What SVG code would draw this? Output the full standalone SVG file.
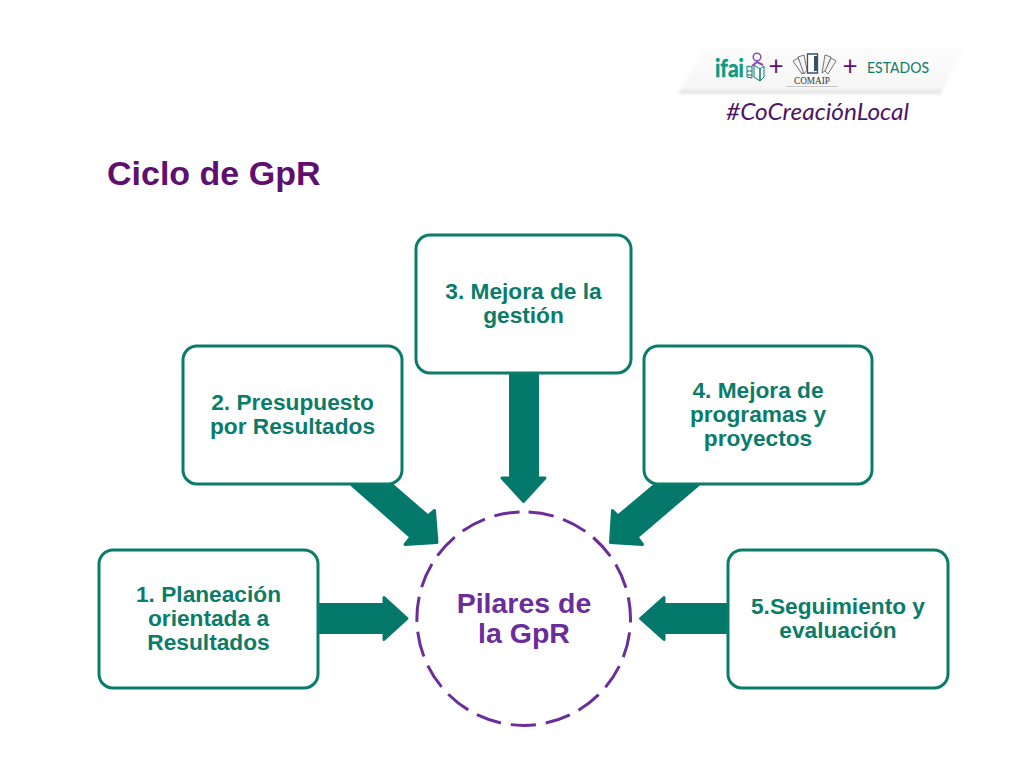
<svg xmlns="http://www.w3.org/2000/svg" width="1024" height="768" viewBox="0 0 1024 768">
<defs>
<linearGradient id="ban" x1="0" y1="0" x2="0" y2="1"><stop offset="0" stop-color="#fbfbfb"/><stop offset="0.85" stop-color="#f7f7f7"/><stop offset="1" stop-color="#e0e0e0"/></linearGradient>
<filter id="soft" x="-5%" y="-20%" width="110%" height="140%"><feGaussianBlur stdDeviation="1.5"/></filter>
</defs>
<style>
.box{fill:#fff;stroke:#0b7c69;stroke-width:3}
.arrow{fill:#04786a;stroke:#04786a;stroke-width:3;stroke-linejoin:round}
.lbl{font-family:"Liberation Sans",Arial,sans-serif;font-weight:700;font-size:22.7px;fill:#0b7c69;text-anchor:middle}
.ctr{font-family:"Liberation Sans",Arial,sans-serif;font-weight:700;font-size:28.5px;fill:#6a2d9a;text-anchor:middle}
.logo{font-family:Lato,"Open Sans",sans-serif}
</style>
<rect width="1024" height="768" fill="#fff"/>
<g id="logo">
<path d="M704 48H963L941 94H678Z" fill="url(#ban)" filter="url(#soft)"/>
<text class="logo" x="715" y="77" font-size="25" font-weight="700" fill="#0b9a80" stroke="#0b9a80" stroke-width="0.5" textLength="29" lengthAdjust="spacingAndGlyphs">ifai</text>
<g fill="none" stroke="#0b7c69" stroke-width="1"><path d="M747 66l5 1v11l-5 -1zM747 71h5M747 75h5"/><path d="M754 65l6 4v12l-6 -4z"/><path d="M760 69l4 -3v11l-4 4z"/></g>
<circle cx="757" cy="57" r="3.800" fill="none" stroke="#8a4fb0" stroke-width="1.500"/>
<path d="M752 66l5 -4 6 3" fill="none" stroke="#8a4fb0" stroke-width="2"/>
<text class="logo" x="776" y="75" font-size="26" fill="#5f0f6f" text-anchor="middle">+</text>
<g fill="#f4f4f4" stroke="#666" stroke-width="0.9"><path d="M793 61l5 -3 7 12 -3 4z"/><path d="M798 57l6 -2 3 15 -3 4z"/><path d="M825 55l6 2 -5 13 -4 3z"/><path d="M831 58l5 3 -8 13 -3 -3z"/></g>
<path d="M807.500 54h10v19h-10z" fill="#fff" stroke="#35506b" stroke-width="1.300"/>
<path d="M814 56h3v15h-3z" fill="#35506b"/>
<path d="M786 86.500H838" stroke="#999" stroke-width="1" opacity="0.5"/>
<text x="812" y="84" font-family="Liberation Serif,serif" font-size="10" fill="#333" text-anchor="middle" textLength="36" lengthAdjust="spacingAndGlyphs">COMAIP</text>
<text class="logo" x="850" y="75" font-size="26" fill="#5f0f6f" text-anchor="middle">+</text>
<text class="logo" x="867" y="73" font-size="14.500" fill="#0b7c69" textLength="62" lengthAdjust="spacingAndGlyphs">ESTADOS</text>
<text class="logo" x="726" y="120" font-size="23" font-style="italic" fill="#4f1468" textLength="183" lengthAdjust="spacingAndGlyphs">#CoCreaciónLocal</text>
</g>
<text id="title" x="107" y="185" font-family="Liberation Sans,Arial,sans-serif" font-size="34" font-weight="700" fill="#5f0f6f">Ciclo de GpR</text>
<g id="connectors">
<path class="arrow" d="M319 604.500H384V597.500L407 618.500L384 639.500V632.500H319Z"/>
<path class="arrow" d="M352 485H392L428 516L434.500 510.500L437 542.500L405 544.500L411 537Z"/>
<path class="arrow" d="M510.500 373H537.500V478H545L523.500 501.500L502 478H510.500Z"/>
<path class="arrow" d="M698 485H655L618 516L612.500 510.500L610.500 542.500L642.500 544.500L637 537Z"/>
<path class="arrow" d="M728 604.500H664V597.500L640.500 618.500L664 639.500V632.500H728Z"/>
</g>
<g id="node1"><rect class="box" x="99" y="550" width="219" height="138" rx="14"/><text class="lbl" x="208.500" y="602">1. Planeación</text><text class="lbl" x="208.500" y="626">orientada a</text><text class="lbl" x="208.500" y="650">Resultados</text></g>
<g id="node2"><rect class="box" x="183" y="346" width="219" height="138" rx="14"/><text class="lbl" x="292.500" y="410">2. Presupuesto</text><text class="lbl" x="292.500" y="434">por Resultados</text></g>
<g id="node3"><rect class="box" x="416" y="235" width="215" height="138" rx="14"/><text class="lbl" x="523.500" y="299">3. Mejora de la</text><text class="lbl" x="523.500" y="323">gestión</text></g>
<g id="node4"><rect class="box" x="644" y="346" width="228" height="138" rx="14"/><text class="lbl" x="758" y="398">4. Mejora de</text><text class="lbl" x="758" y="422">programas y</text><text class="lbl" x="758" y="446">proyectos</text></g>
<g id="node5"><rect class="box" x="728" y="550" width="220" height="138" rx="14"/><text class="lbl" x="838" y="614">5.Seguimiento y</text><text class="lbl" x="838" y="638">evaluación</text></g>
<g id="center">
<path d="M523.700 511.800A106.800 106.800 0 1 1 523.700 725.400A106.800 106.800 0 1 1 523.700 511.800Z" fill="#fff" stroke="#6a2d9a" stroke-width="3" stroke-dasharray="25.400 9.920" stroke-dashoffset="-4.960"/>
<text class="ctr" x="524" y="613">Pilares de</text>
<text class="ctr" x="524" y="643">la GpR</text>
</g>
</svg>
